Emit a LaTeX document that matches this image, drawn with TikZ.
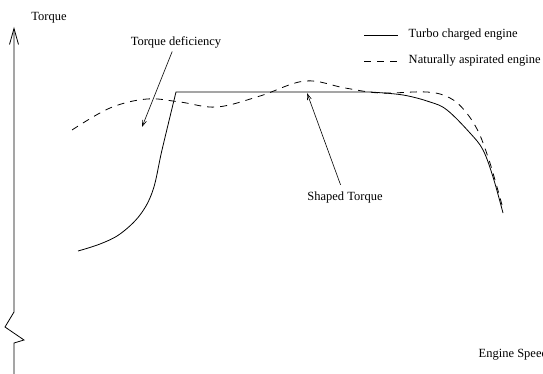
\documentclass[tikz,border=0pt]{standalone}
\usepackage{fontspec}
\setmainfont{Liberation Serif}
\usepackage{tikz}
\usetikzlibrary{arrows.meta, positioning}

\begin{document}
\begin{tikzpicture}[x=1pt, y=-1pt, line width=0.8pt,
    every node/.style={font=\fontsize{12.5}{15}\selectfont},
    natdash/.style={dash pattern=on 7pt off 6pt},
    pointer/.style={line width=0.6pt, -{Straight Barb[length=6pt,width=4pt]}}]
    \useasboundingbox (0,0) rectangle (543,374);

    % Axis with break
    \draw[-{Straight Barb[length=16pt,width=9pt]}] (14,380) -- (14,343) -- (24,340) -- (5,327) -- (14,312) -- (14,27);
    \node at (49,18) (ylab) {Torque};
    \node[anchor=west] at (475,355) (speed) {Engine Speed};

    % Naturally aspirated engine
    \draw[natdash] plot[smooth, tension=0.6] coordinates {(72,130) (110,108) (147,99) (180,102) (217,107) (260,96) (305,81) (345,88) (380,93) (427,92) (450,98) (465,111) (478,131) (488,157) (495,180) (502,205)};

    % Turbo charged engine
    \draw plot[smooth, tension=0.6] coordinates {(78,251) (100,244) (120,234) (140,215) (153,190) (162,150) (176,92)}
        -- (370,92);
    \draw plot[smooth, tension=0.6] coordinates {(370,92) (403,95) (430,102) (447,110) (470,133) (483,150) (493,177) (503,213)};

    % Labels
    \coordinate (deftip) at (142,127);
    \coordinate (shapetip) at (307,93);
    \node at (176,42) (defic) {Torque deficiency};
    \node at (345,197) (shaped) {Shaped Torque};
    \draw[pointer] (defic) -- (deftip);
    \draw[pointer, shorten <=3pt] (shaped) -- (shapetip);

    % Legend
    \coordinate (l1) at (364,35);
    \coordinate (l2) at (398,35);
    \coordinate (l3) at (364,61);
    \coordinate (l4) at (398,61);
    \draw (l1) -- (l2);
    \draw[natdash] (l3) -- (l4);
    \node[anchor=west] at (405,35) (turbo) {Turbo charged engine};
    \node[anchor=west] at (405,61) (natural) {Naturally aspirated engine};
\end{tikzpicture}
\end{document}
